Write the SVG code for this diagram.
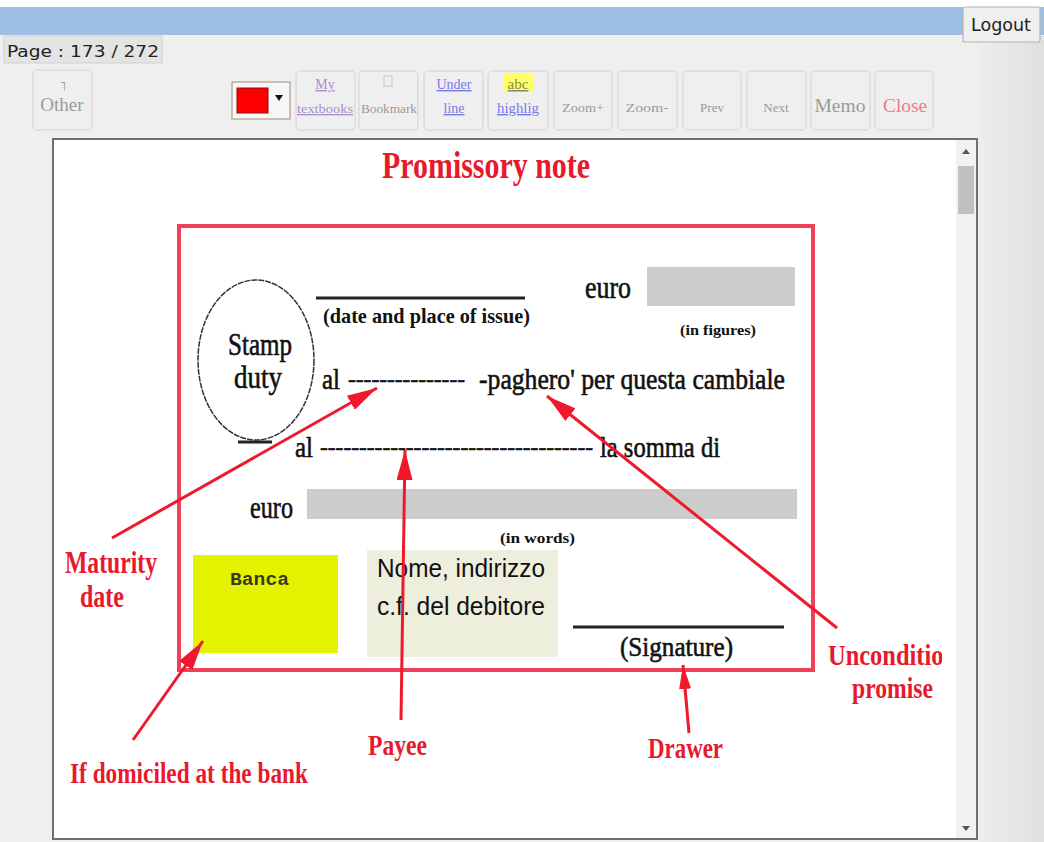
<svg xmlns="http://www.w3.org/2000/svg" width="1044" height="842" viewBox="0 0 1044 842">
<defs>
<style>
.btn{fill:#efefef;stroke:#dcdcdc;stroke-width:1.5}
.bt{font-family:"Liberation Serif",serif;fill:#9a9a9a;text-anchor:middle}
.lnk{font-family:"Liberation Serif",serif;text-decoration:underline;text-anchor:middle}
.lbl{font-family:"Liberation Serif",serif;font-weight:bold;fill:#e8192c}
.frm{font-family:"Liberation Serif",serif;fill:#111;stroke:#111;stroke-width:0.6}
.frmb{font-family:"Liberation Serif",serif;font-weight:bold;fill:#111}
.arr{stroke:#ee1a2c;stroke-width:3;fill:none}
</style>
<linearGradient id="side" x1="0" y1="0" x2="1" y2="0">
<stop offset="0" stop-color="#ededed"/>
<stop offset="1" stop-color="#e0e0e0"/>
</linearGradient>
<marker id="ah" viewBox="0 0 30 16" refX="30" refY="8" markerWidth="30" markerHeight="16" markerUnits="userSpaceOnUse" orient="auto">
<path d="M0,0 L30,8 L0,16 Z" fill="#ee1a2c"/>
</marker>
<marker id="ahs" viewBox="0 0 24 12" refX="24" refY="6" markerWidth="24" markerHeight="12" markerUnits="userSpaceOnUse" orient="auto">
<path d="M0,0 L24,6 L0,12 Z" fill="#ee1a2c"/>
</marker>
<clipPath id="imgclip"><rect x="54" y="141" width="888" height="697"/></clipPath>
</defs>

<!-- page chrome -->
<rect x="0" y="0" width="1044" height="842" fill="#efefef"/>
<rect x="978" y="36" width="66" height="806" fill="url(#side)"/>
<rect x="0" y="0" width="1044" height="7" fill="#ffffff"/>
<rect x="0" y="7" width="1044" height="28" fill="#9dbde2"/>

<g id="logout">
<rect x="963" y="7" width="77" height="35" rx="2" fill="#efefef" stroke="#b5b5b5" stroke-width="1.2"/>
<text x="1001" y="31" font-family="'DejaVu Sans',sans-serif" font-size="17" fill="#222" text-anchor="middle" textLength="60" lengthAdjust="spacingAndGlyphs">Logout</text>
</g>

<g id="page-label">
<rect x="4" y="36" width="158" height="27" fill="#e4e4e4" stroke="#d2d2d2"/>
<text x="7" y="57" font-family="'DejaVu Sans',sans-serif" font-size="16" fill="#222" textLength="152" lengthAdjust="spacingAndGlyphs">Page : 173 / 272</text>
</g>

<!-- toolbar -->
<g id="btn-other">
<rect class="btn" x="33" y="70" width="59" height="60" rx="4"/>
<text x="63" y="90" font-family="'DejaVu Sans',sans-serif" font-size="13" fill="#999" text-anchor="middle">˥</text>
<text class="bt" x="62" y="111" font-size="19" fill="#8a8a8a">Other</text>
</g>
<g id="color-select">
<rect x="232" y="82" width="58" height="37" fill="#f7f7f7" stroke="#b09a88" stroke-width="1.2"/>
<rect x="237" y="88" width="31" height="25" fill="#ff0000" stroke="#8a1010" stroke-width="1"/>
<path d="M275,95 L283,95 L279,101 Z" fill="#111"/>
</g>
<g id="btn-textbooks">
<rect class="btn" x="296" y="71" width="59" height="59" rx="4"/>
<text class="lnk" x="325" y="89" font-size="14" fill="#a68fcc">My</text>
<text class="lnk" x="325" y="113" font-size="13" fill="#a68fcc" textLength="56" lengthAdjust="spacingAndGlyphs">textbooks</text>
</g>
<g id="btn-bookmark">
<rect class="btn" x="359" y="71" width="59" height="59" rx="4"/>
<rect x="384" y="76" width="8" height="10" fill="none" stroke="#c8c8c8" stroke-width="1"/>
<text class="bt" x="389" y="113" font-size="12" textLength="56" lengthAdjust="spacingAndGlyphs">Bookmark</text>
</g>
<g id="btn-underline">
<rect class="btn" x="424" y="71" width="59" height="59" rx="4"/>
<text class="lnk" x="454" y="89" font-size="14" fill="#7878e8">Under</text>
<text class="lnk" x="454" y="113" font-size="14" fill="#7878e8">line</text>
</g>
<g id="btn-highlight">
<rect class="btn" x="488" y="71" width="60" height="59" rx="4"/>
<rect x="504" y="73" width="29" height="19" fill="#ffff66"/>
<text class="lnk" x="518" y="89" font-size="15" fill="#8a8a4a">abc</text>
<text class="lnk" x="518" y="113" font-size="14" fill="#7878e8" textLength="42" lengthAdjust="spacingAndGlyphs">highlig</text>
</g>
<g id="btn-zoomin">
<rect class="btn" x="554" y="71" width="58" height="59" rx="4"/>
<text class="bt" x="583" y="112" font-size="13" textLength="42" lengthAdjust="spacingAndGlyphs">Zoom+</text>
</g>
<g id="btn-zoomout">
<rect class="btn" x="618" y="71" width="59" height="59" rx="4"/>
<text class="bt" x="647" y="112" font-size="13" textLength="43" lengthAdjust="spacingAndGlyphs">Zoom-</text>
</g>
<g id="btn-prev">
<rect class="btn" x="683" y="71" width="58" height="59" rx="4"/>
<text class="bt" x="712" y="112" font-size="13">Prev</text>
</g>
<g id="btn-next">
<rect class="btn" x="747" y="71" width="59" height="59" rx="4"/>
<text class="bt" x="776" y="112" font-size="13">Next</text>
</g>
<g id="btn-memo">
<rect class="btn" x="811" y="71" width="59" height="59" rx="4"/>
<text class="bt" x="840" y="112" font-size="18" fill="#888" textLength="51" lengthAdjust="spacingAndGlyphs">Memo</text>
</g>
<g id="btn-close">
<rect class="btn" x="875" y="71" width="58" height="59" rx="4"/>
<text class="bt" x="905" y="112" font-size="18" style="fill:#f07a86" textLength="44" lengthAdjust="spacingAndGlyphs">Close</text>
</g>

<!-- content frame -->
<rect x="53" y="139" width="924" height="700" fill="#ffffff" stroke="#6f6f6f" stroke-width="2"/>
<g id="scrollbar">
<rect x="956" y="140" width="20" height="698" fill="#f1f1f1"/>
<rect x="958" y="166" width="16" height="48" fill="#c1c1c1"/>
<path d="M962,154 L970,154 L966,149 Z" fill="#555"/>
<path d="M962,826 L970,826 L966,831 Z" fill="#555"/>
</g>

<g clip-path="url(#imgclip)">
<g id="title">
<text class="lbl" x="382" y="178" font-size="37" textLength="208" lengthAdjust="spacingAndGlyphs">Promissory note</text>
</g>

<g id="note">
<rect x="179" y="226" width="634" height="444" fill="none" stroke="#f0405a" stroke-width="4"/>
<g id="stamp">
<ellipse cx="256" cy="360" rx="58" ry="80" fill="none" stroke="#333" stroke-width="1.5" stroke-dasharray="6 1"/>
<text class="frm" x="260" y="355" font-size="31" text-anchor="middle" textLength="64" lengthAdjust="spacingAndGlyphs">Stamp</text>
<text class="frm" x="258" y="388" font-size="31" text-anchor="middle" textLength="48" lengthAdjust="spacingAndGlyphs">duty</text>
</g>
<line x1="238" y1="442" x2="272" y2="442" stroke="#222" stroke-width="3"/>
<g id="issue">
<line x1="316" y1="298" x2="525" y2="298" stroke="#222" stroke-width="3"/>
<text class="frmb" x="323" y="323" font-size="22" textLength="207" lengthAdjust="spacingAndGlyphs">(date and place of issue)</text>
</g>
<g id="amount-figures">
<text class="frm" x="585" y="298" font-size="31" textLength="46" lengthAdjust="spacingAndGlyphs">euro</text>
<rect x="647" y="267" width="148" height="39" fill="#cccccc"/>
<text class="frmb" x="680" y="335" font-size="14" textLength="76" lengthAdjust="spacingAndGlyphs">(in figures)</text>
</g>
<g id="line1">
<text class="frm" x="322" y="389" font-size="30" textLength="18" lengthAdjust="spacingAndGlyphs">al</text>
<text class="frm" x="348" y="387" font-size="23.4" textLength="117" lengthAdjust="spacingAndGlyphs">---------------</text>
<text class="frm" x="479" y="389" font-size="30" textLength="306" lengthAdjust="spacingAndGlyphs">-paghero'  per questa cambiale</text>
</g>
<g id="line2">
<text class="frm" x="295" y="457" font-size="30" textLength="18" lengthAdjust="spacingAndGlyphs">al</text>
<text class="frm" x="320" y="455" font-size="23.4" textLength="273" lengthAdjust="spacingAndGlyphs">-----------------------------------</text>
<text class="frm" x="600" y="457" font-size="30" textLength="120" lengthAdjust="spacingAndGlyphs">la somma di</text>
</g>
<g id="amount-words">
<text class="frm" x="250" y="518" font-size="31" textLength="43" lengthAdjust="spacingAndGlyphs">euro</text>
<rect x="307" y="489" width="490" height="30" fill="#cccccc"/>
<text class="frmb" x="500" y="543" font-size="14" textLength="75" lengthAdjust="spacingAndGlyphs">(in words)</text>
</g>
<g id="banca">
<rect x="193" y="555" width="145" height="98" fill="#e4f400"/>
<text x="230" y="585" font-family="'Liberation Mono',monospace" font-size="19" font-weight="bold" fill="#3a3a1a" textLength="59" lengthAdjust="spacingAndGlyphs">Banca</text>
</g>
<g id="debitore">
<rect x="367" y="550" width="191" height="107" fill="#eeeedd"/>
<text x="377" y="577" font-family="'Liberation Sans',sans-serif" font-size="26" fill="#111" textLength="168" lengthAdjust="spacingAndGlyphs">Nome, indirizzo</text>
<text x="377" y="615" font-family="'Liberation Sans',sans-serif" font-size="26" fill="#111" textLength="168" lengthAdjust="spacingAndGlyphs">c.f. del debitore</text>
</g>
<g id="signature">
<line x1="573" y1="627" x2="784" y2="627" stroke="#222" stroke-width="3"/>
<text class="frm" x="620" y="656" font-size="28" textLength="113" lengthAdjust="spacingAndGlyphs">(Signature)</text>
</g>
</g>

<g id="connectors">
<line class="arr" x1="112" y1="538" x2="377" y2="388" marker-end="url(#ah)"/>
<line class="arr" x1="837" y1="628" x2="547" y2="396" marker-end="url(#ah)"/>
<line class="arr" x1="401" y1="720" x2="405" y2="450" marker-end="url(#ah)"/>
<line class="arr" x1="689" y1="733" x2="683" y2="665" marker-end="url(#ahs)"/>
<line class="arr" x1="133" y1="740" x2="203" y2="641" marker-end="url(#ah)"/>
</g>

<g id="label-maturity">
<text class="lbl" x="65" y="573" font-size="31" textLength="92" lengthAdjust="spacingAndGlyphs">Maturity</text>
<text class="lbl" x="80" y="607" font-size="31" textLength="44" lengthAdjust="spacingAndGlyphs">date</text>
</g>
<g id="label-domiciled">
<text class="lbl" x="70" y="783" font-size="29" textLength="238" lengthAdjust="spacingAndGlyphs">If domiciled at the bank</text>
</g>
<g id="label-payee">
<text class="lbl" x="368" y="755" font-size="29" textLength="59" lengthAdjust="spacingAndGlyphs">Payee</text>
</g>
<g id="label-drawer">
<text class="lbl" x="648" y="758" font-size="29" textLength="75" lengthAdjust="spacingAndGlyphs">Drawer</text>
</g>
<g id="label-promise">
<text class="lbl" x="828" y="665" font-size="30" textLength="148" lengthAdjust="spacingAndGlyphs">Unconditional</text>
<text class="lbl" x="852" y="698" font-size="30" textLength="81" lengthAdjust="spacingAndGlyphs">promise</text>
</g>
</g>
</svg>
